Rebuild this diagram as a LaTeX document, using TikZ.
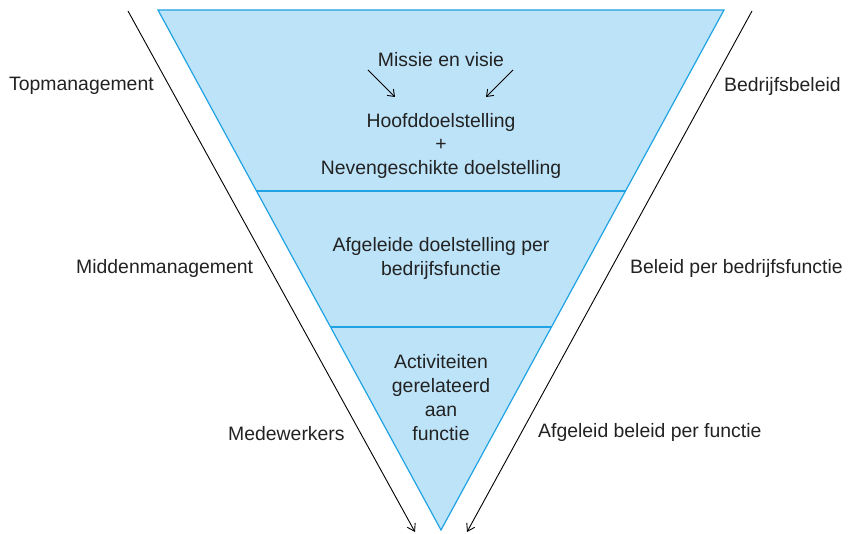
\documentclass[tikz,border=0pt]{standalone}
\usepackage{fontspec}
\setmainfont{Liberation Sans}
\usetikzlibrary{arrows.meta,calc}
\definecolor{bandfill}{HTML}{BDE3F8}
\definecolor{bandline}{HTML}{1FA3E3}
\definecolor{inktext}{HTML}{222222}
\begin{document}
\begin{tikzpicture}[x=1pt,y=-1pt,
  lbl/.style={font=\fontsize{19.4}{24}\selectfont, text=inktext, inner sep=0pt},
  ctr/.style={lbl, align=center},
  flow/.style={draw=black, line width=0.9pt, -{Straight Barb[length=7pt,width=9pt]}},
  smallflow/.style={draw=black, line width=0.9pt, -{Straight Barb[length=6pt,width=9pt]}}]
\useasboundingbox (0,0) rectangle (852,534);

% corners of the inverted triangle
\coordinate (tl) at (158,10);
\coordinate (tr) at (724,10);
\coordinate (apex) at (441,530);
\coordinate (b1l) at ($(tl)!0.348!(apex)$);
\coordinate (b1r) at ($(tr)!0.348!(apex)$);
\coordinate (b2l) at ($(tl)!0.6096!(apex)$);
\coordinate (b2r) at ($(tr)!0.6096!(apex)$);

\fill[bandfill] (tl) -- (tr) -- (apex) -- cycle;
\draw[bandline, line width=1.2pt, line join=miter] (tl) -- (tr) -- (apex) -- cycle;
\draw[bandline, line width=1.2pt] (b1l) -- (b1r);
\draw[bandline, line width=1.2pt] (b2l) -- (b2r);

% side flows
\coordinate (ls) at (128,11);
\coordinate (le) at (415,532);
\coordinate (rs) at (752,11);
\coordinate (re) at (467,532);
\draw[flow] (ls) -- (le);
\draw[flow] (rs) -- (re);

% texts inside the triangle
\node[lbl] (missie) at (441,60) {Missie en visie};
\node[lbl] (hoofd) at (441,122) {Hoofddoelstelling};
\node[lbl] (plus) at (441,145) {+};
\node[lbl] (neven) at (441,169) {Nevengeschikte doelstelling};
\node[ctr] (afgeleid) at (441,258) {Afgeleide doelstelling per\\bedrijfsfunctie};
\node[ctr] (activ) at (441,398) {Activiteiten\\gerelateerd\\aan\\functie};

\coordinate (a1s) at (368,70);
\coordinate (a1e) at (395,97);
\coordinate (a2s) at (513,70);
\coordinate (a2e) at (486,97);
\draw[smallflow] (a1s) -- (a1e);
\draw[smallflow] (a2s) -- (a2e);

% side labels
\node[lbl, anchor=west] (top) at (9,86) {Topmanagement};
\node[lbl, anchor=west] (midden) at (76,268) {Middenmanagement};
\node[lbl, anchor=west] (mede) at (228,434) {Medewerkers};
\node[lbl, anchor=west] (bbeleid) at (724,86) {Bedrijfsbeleid};
\node[lbl, anchor=west] (bpf) at (630,268) {Beleid per bedrijfsfunctie};
\node[lbl, anchor=west] (abpf) at (538,432) {Afgeleid beleid per functie};
\end{tikzpicture}
\end{document}
